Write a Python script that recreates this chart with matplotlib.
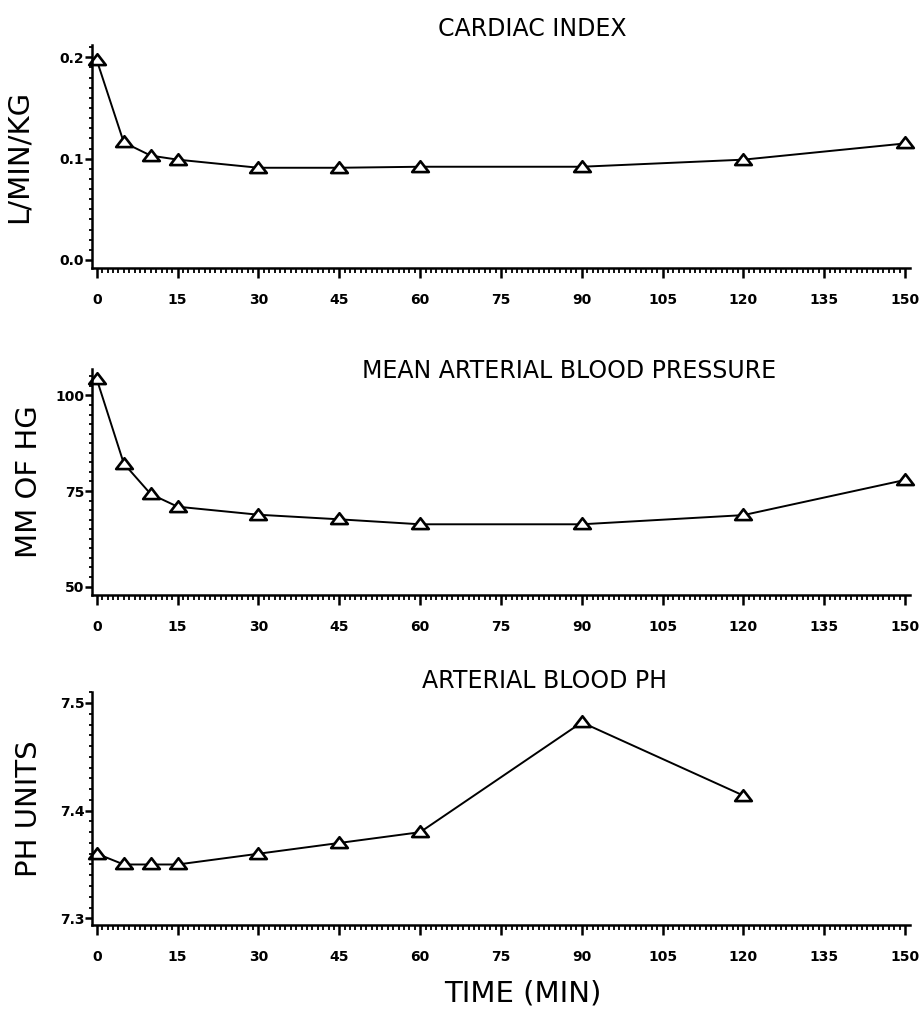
import numpy as np
import matplotlib
matplotlib.use("Agg")
import matplotlib.pyplot as plt
from matplotlib.path import Path
from matplotlib.ticker import MultipleLocator, FormatStrFormatter

# --- data ---
time_min = [0, 5, 10, 15, 30, 45, 60, 90, 120, 150]
cardiac_index = [0.197, 0.116, 0.103, 0.099, 0.091, 0.091, 0.092, 0.092, 0.099, 0.115]
map_mmhg = [104.2, 82.2, 74.2, 70.9, 68.8, 67.6, 66.3, 66.3, 68.7, 77.9]
ph_time = [0, 5, 10, 15, 30, 45, 60, 90, 120]
ph_units = [7.36, 7.35, 7.35, 7.35, 7.36, 7.37, 7.38, 7.482, 7.414]

x_ticks = list(range(0, 151, 15))

# flattened triangle like the plotter symbol
tri = Path([(-1.0, -0.55), (1.0, -0.55), (0.0, 0.75), (-1.0, -0.55)],
           [Path.MOVETO, Path.LINETO, Path.LINETO, Path.CLOSEPOLY])

panels = [
    dict(title="CARDIAC INDEX", ylabel="L/MIN/KG", x=time_min, y=cardiac_index,
         ylim=(-0.008, 0.212), yticks=[0.0, 0.1, 0.2], yminor=0.01, fmt="%.1f",
         rect=[0.100, 0.739, 0.889, 0.217], title_x=0.579, title_y=0.972, label_x=-0.072),
    dict(title="MEAN ARTERIAL BLOOD PRESSURE", ylabel="MM OF HG", x=time_min, y=map_mmhg,
         ylim=(47.9, 107.0), yticks=[50, 75, 100], yminor=2.5, fmt="%d",
         rect=[0.100, 0.421, 0.889, 0.220], title_x=0.619, title_y=0.639, label_x=-0.060),
    dict(title="ARTERIAL BLOOD PH", ylabel="PH UNITS", x=ph_time, y=ph_units,
         ylim=(7.2935, 7.51), yticks=[7.3, 7.4, 7.5], yminor=0.01, fmt="%.1f",
         rect=[0.100, 0.099, 0.889, 0.227], title_x=0.592, title_y=0.337, label_x=-0.060),
]

fig = plt.figure(figsize=(9.2, 10.27), dpi=100)

for p in panels:
    ax = fig.add_axes(p["rect"])
    ax.plot(p["x"], p["y"], color="black", linewidth=1.4, marker=tri,
            markersize=12, markerfacecolor="white", markeredgecolor="black",
            markeredgewidth=1.9, clip_on=False)
    ax.set_xlim(-0.9, 150.9)
    ax.set_ylim(*p["ylim"])
    for side in ("top", "right"):
        ax.spines[side].set_visible(False)
    for side in ("left", "bottom"):
        ax.spines[side].set_linewidth(1.8)
    ax.set_xticks(x_ticks)
    ax.xaxis.set_minor_locator(MultipleLocator(1))
    ax.set_yticks(p["yticks"])
    ax.yaxis.set_minor_locator(MultipleLocator(p["yminor"]))
    ax.yaxis.set_major_formatter(FormatStrFormatter(p["fmt"]))
    ax.tick_params(axis="x", which="major", direction="out", length=7, width=1.8,
                   labelsize=10, pad=11)
    ax.tick_params(axis="x", which="minor", direction="out", length=3.6, width=1.3)
    ax.tick_params(axis="y", which="major", direction="out", length=5, width=1.8,
                   labelsize=10, pad=0.5)
    ax.tick_params(axis="y", which="minor", direction="out", length=2.5, width=1.3)
    for lbl in ax.get_xticklabels() + ax.get_yticklabels():
        lbl.set_fontweight("bold")
    ax.set_ylabel(p["ylabel"], fontsize=21)
    ax.yaxis.set_label_coords(p["label_x"], 0.5)
    fig.text(p["title_x"], p["title_y"], p["title"], ha="center", va="center",
             fontsize=17)

fig.text(0.568, 0.033, "TIME (MIN)", ha="center", va="center", fontsize=21)

fig.savefig("out.png", dpi=100)
